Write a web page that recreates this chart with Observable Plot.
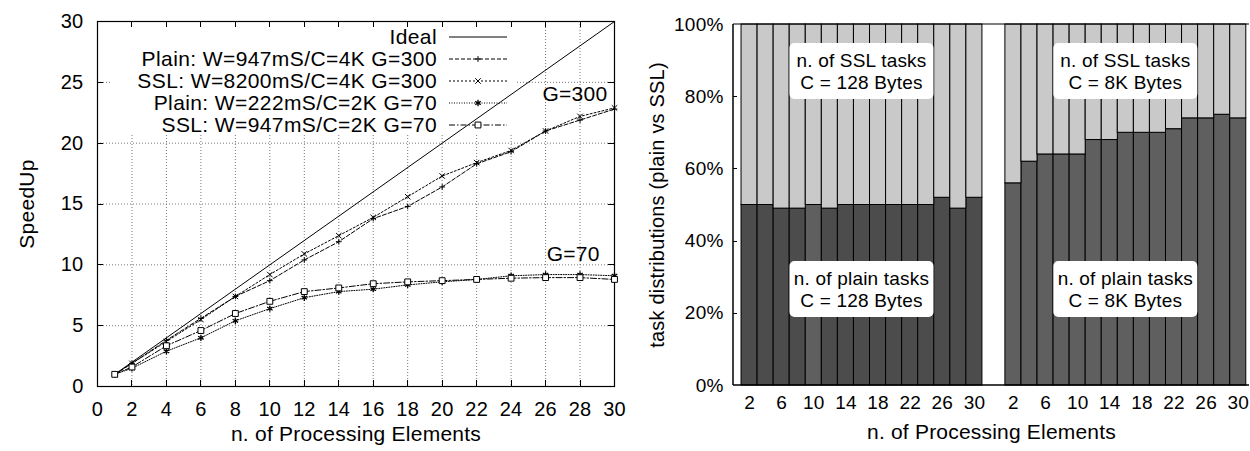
<!DOCTYPE html>
<html>
<head>
<meta charset="utf-8">
<script src="https://cdn.jsdelivr.net/npm/d3@7"></script>
<script src="https://cdn.jsdelivr.net/npm/@observablehq/plot@0.6"></script>
<style>
  body { margin: 0; background: #fff; }
  #wrap { display: flex; width: 1250px; height: 451px; overflow: hidden; }
  #wrap svg { display: block; }
</style>
</head>
<body>
<div id="wrap"></div>
<script>
// ---------------- LEFT CHART DATA ----------------
const peCounts = [1, 2, 4, 6, 8, 10, 12, 14, 16, 18, 20, 22, 24, 26, 28, 30];
const speedupPlain300 = [1, 1.9, 3.8, 5.6, 7.4, 8.7, 10.4, 11.9, 13.8, 14.8, 16.4, 18.3, 19.3, 21.0, 21.9, 22.8];
const speedupSSL300   = [1, 1.9, 3.7, 5.5, 7.4, 9.2, 10.9, 12.4, 13.9, 15.6, 17.3, 18.4, 19.4, 21.0, 22.2, 22.9];
const speedupPlain70  = [1, 1.5, 2.9, 4.0, 5.4, 6.4, 7.3, 7.8, 8.0, 8.35, 8.6, 8.8, 9.1, 9.2, 9.2, 9.1];
const speedupSSL70    = [1, 1.6, 3.35, 4.6, 6.0, 7.0, 7.8, 8.1, 8.45, 8.6, 8.7, 8.8, 8.9, 8.95, 8.95, 8.8];
const idealX = [1, 30];
const idealY = [1, 30];
const legendLabels = [
  "Ideal",
  "Plain: W=947mS/C=4K G=300",
  "SSL: W=8200mS/C=4K G=300",
  "Plain: W=222mS/C=2K G=70",
  "SSL: W=947mS/C=2K G=70"
];
const xTicksLeft = [0, 2, 4, 6, 8, 10, 12, 14, 16, 18, 20, 22, 24, 26, 28, 30];
const yTicksLeft = [0, 5, 10, 15, 20, 25, 30];
const annotX = [27.7, 27.6];
const annotY = [24.0, 10.9];
const annotText = ["G=300", "G=70"];
const xLabelLeft = "n. of Processing Elements";
const yLabelLeft = "SpeedUp";

// ---------------- RIGHT CHART DATA ----------------
const barPE = [2, 4, 6, 8, 10, 12, 14, 16, 18, 20, 22, 24, 26, 28, 30];
const plainPct128 = [50, 50, 49, 49, 50, 49, 50, 50, 50, 50, 50, 50, 52, 49, 52];
const plainPct8K  = [56, 62, 64, 64, 64, 68, 68, 70, 70, 70, 71, 74, 74, 75, 74];
const barTickPE = [2, 6, 10, 14, 18, 22, 26, 30];
const yTicksRight = [0, 20, 40, 60, 80, 100];
const boxTextSSL = [["n. of SSL tasks", "C = 128 Bytes"], ["n. of SSL tasks", "C = 8K Bytes"]];
const boxTextPlain = [["n. of plain tasks", "C = 128 Bytes"], ["n. of plain tasks", "C = 8K Bytes"]];
const boxPctSSL = 87;
const boxPctPlain = 26.6;
const xLabelRight = "n. of Processing Elements";
const yLabelRight = "task distributions (plain vs SSL)";

const FONT = "'Liberation Sans', Arial, Helvetica, sans-serif";

// ================= LEFT CHART =================
const seriesDefs = [
  {name: legendLabels[1], values: speedupPlain300, dash: "4,2", symbol: "plus", r: 2.0, fill: "none"},
  {name: legendLabels[2], values: speedupSSL300, dash: "2,2", symbol: "times", r: 2.6, fill: "none"},
  {name: legendLabels[3], values: speedupPlain70, dash: "1,1.5", symbol: "asterisk", r: 3.0, fill: "none"},
  {name: legendLabels[4], values: speedupSSL70, dash: "6,2,1.5,2", symbol: "square", r: 3.3, fill: "white"}
];
const symbolMap = {plus: d3.symbolPlus, times: d3.symbolTimes, asterisk: d3.symbolAsterisk, square: d3.symbolSquare};

const idealData = idealX.map((x, i) => ({x, y: idealY[i]}));
const seriesMarks = seriesDefs.flatMap(s => {
  const data = peCounts.map((x, i) => ({x, y: s.values[i]}));
  return [
    Plot.line(data, {x: "x", y: "y", stroke: "black", strokeWidth: 1, strokeDasharray: s.dash}),
    Plot.dot(data, {x: "x", y: "y", symbol: s.symbol, r: s.r, stroke: "black", fill: s.fill, strokeWidth: s.symbol === "asterisk" ? 1.3 : 1})
  ];
});

function frameBox(d) {
  return {L: d.marginLeft, R: d.width - d.marginRight, T: d.marginTop, B: d.height - d.marginBottom};
}

// white background of the key (hides the grid only)
function legendBackground(index, scales, values, dims) {
  const f = frameBox(dims);
  return d3.create("svg:rect")
    .attr("x", f.L + 13).attr("y", f.T + 1)
    .attr("width", 406).attr("height", 111)
    .attr("fill", "white").node();
}

function leftTickMarks(index, scales, values, dims) {
  const f = frameBox(dims);
  const g = d3.create("svg:g").attr("stroke", "black").attr("stroke-width", 1);
  const t = 6;
  for (const v of xTicksLeft.slice(1, -1)) {
    const px = Math.round(scales.x(v)) + 0.5;
    g.append("line").attr("x1", px).attr("x2", px).attr("y1", f.B).attr("y2", f.B - t);
    g.append("line").attr("x1", px).attr("x2", px).attr("y1", f.T).attr("y2", f.T + t);
  }
  for (const v of yTicksLeft.slice(1, -1)) {
    const py = Math.round(scales.y(v)) + 0.5;
    g.append("line").attr("x1", f.L).attr("x2", f.L + t).attr("y1", py).attr("y2", py);
    g.append("line").attr("x1", f.R).attr("x2", f.R - t).attr("y1", py).attr("y2", py);
  }
  return g.node();
}

function legendMark(index, scales, values, dims) {
  const f = frameBox(dims);
  const g = d3.create("svg:g").attr("font-size", 21).attr("fill", "black").attr("letter-spacing", "0.4px");
  const textRight = f.L + 340, x0 = f.L + 352, x1 = f.L + 410;
  const rowY0 = f.T + 16, rowStep = 22;
  const styles = [{dash: null, symbol: null}].concat(seriesDefs);
  legendLabels.forEach((lab, k) => {
    const y = rowY0 + k * rowStep;
    g.append("text").attr("x", textRight).attr("y", y).attr("dy", "0.35em")
      .attr("text-anchor", "end").text(lab);
    const ln = g.append("line").attr("x1", x0).attr("x2", x1).attr("y1", y).attr("y2", y)
      .attr("stroke", "black").attr("stroke-width", 1);
    const st = styles[k];
    if (st.dash) ln.attr("stroke-dasharray", st.dash);
    if (st.symbol) {
      const size = st.r * st.r * Math.PI;
      g.append("path").attr("d", d3.symbol(symbolMap[st.symbol], size)())
        .attr("transform", `translate(${(x0 + x1) / 2},${y})`)
        .attr("fill", st.fill).attr("stroke", "black")
        .attr("stroke-width", st.symbol === "asterisk" ? 1.3 : 1);
    }
  });
  return g.node();
}

const annotData = annotText.map((t, i) => ({x: annotX[i], y: annotY[i], t}));

const left = Plot.plot({
  width: 640,
  height: 451,
  marginLeft: 97,
  marginRight: 26,
  marginTop: 21,
  marginBottom: 65,
  style: {fontFamily: FONT, fontSize: "20px", color: "black", background: "white", overflow: "visible", letterSpacing: "0.25px"},
  x: {domain: [0, 30], ticks: xTicksLeft, tickSize: 0, tickPadding: 15, label: null},
  y: {domain: [0, 30], ticks: yTicksLeft, tickSize: 0, tickPadding: 14, label: null},
  marks: [
    Plot.ruleX(xTicksLeft.slice(1, -1), {stroke: "#777", strokeWidth: 1, strokeDasharray: "1,2"}),
    Plot.ruleY(yTicksLeft.slice(1, -1), {stroke: "#777", strokeWidth: 1, strokeDasharray: "1,2"}),
    legendBackground,
    Plot.frame({stroke: "black", strokeWidth: 1.2}),
    leftTickMarks,
    Plot.line(idealData, {x: "x", y: "y", stroke: "black", strokeWidth: 1}),
    ...seriesMarks,
    Plot.text(annotData, {x: "x", y: "y", text: "t", fontSize: 21}),
    Plot.text([xLabelLeft], {frameAnchor: "bottom", dy: 54, text: d => d, fontSize: 21, textAnchor: "middle"}),
    Plot.text([yLabelLeft], {frameAnchor: "left", dx: -70, rotate: -90, text: d => d, fontSize: 21, textAnchor: "middle"}),
    legendMark
  ]
});

// ================= RIGHT CHART =================
const GAP = 1.43; // empty space between the two groups, in bar widths
const barRows = [];
[plainPct128, plainPct8K].forEach((vals, g) =>
  barPE.forEach((p, i) => barRows.push({group: g, pe: p, slot: i + g * (barPE.length + GAP), plain: vals[i]}))
);
const tickRows = barRows.filter(d => barTickPE.includes(d.pe));
const boxRows = [0, 1].flatMap(g => {
  const center = g * (barPE.length + GAP) + barPE.length / 2;
  return [
    {slot: center, pct: boxPctSSL, lines: boxTextSSL[g]},
    {slot: center, pct: boxPctPlain, lines: boxTextPlain[g]}
  ];
});

function rightBorders(index, scales, values, dims) {
  const f = frameBox(dims);
  const g = d3.create("svg:g").attr("stroke", "black").attr("fill", "none");
  g.append("line").attr("x1", f.L).attr("x2", f.L).attr("y1", f.T).attr("y2", f.B).attr("stroke-width", 1.5);
  g.append("line").attr("x1", f.L).attr("x2", f.R).attr("y1", f.B).attr("y2", f.B).attr("stroke-width", 1.5);
  g.append("line").attr("x1", f.L).attr("x2", f.R).attr("y1", f.T).attr("y2", f.T).attr("stroke-width", 1.2);
  for (const v of yTicksRight.slice(1, -1)) {
    const py = Math.round(scales.y(v)) + 0.5;
    g.append("line").attr("x1", f.L).attr("x2", f.L + 4).attr("y1", py).attr("y2", py).attr("stroke-width", 1);
  }
  return g.node();
}

function labelBoxes(index, scales, values, dims) {
  const g = d3.create("svg:g");
  for (const b of boxRows) {
    const cx = scales.x(b.slot), cy = scales.y(b.pct);
    g.append("rect").attr("x", cx - 72).attr("y", cy - 28).attr("width", 144).attr("height", 56)
      .attr("rx", 5).attr("fill", "white");
    const t = g.append("text").attr("text-anchor", "middle").attr("font-size", 19).attr("fill", "black");
    b.lines.forEach((ln, k) => {
      t.append("tspan").attr("x", cx).attr("y", cy - 11 + k * 22).attr("dy", "0.35em").text(ln);
    });
  }
  return g.node();
}

const right = Plot.plot({
  width: 610,
  height: 451,
  marginLeft: 93,
  marginRight: 1,
  marginTop: 24,
  marginBottom: 66,
  style: {fontFamily: FONT, fontSize: "19px", color: "black", background: "white", overflow: "visible", letterSpacing: "0.2px"},
  x: {domain: [-0.5, 2 * barPE.length + GAP + 0.2], axis: null},
  y: {domain: [0, 100], ticks: yTicksRight, tickFormat: d => d + "%", tickSize: 0, tickPadding: 10, label: null},
  marks: [
    Plot.rect(barRows, {
      x1: "slot", x2: d => d.slot + 1, y1: 0, y2: "plain",
      fill: d => (d.group === 0 && d.pe !== 10) ? "#4c4c4c" : "#5f5f5f",
      stroke: "black", strokeWidth: 1
    }),
    Plot.rect(barRows, {
      x1: "slot", x2: d => d.slot + 1, y1: "plain", y2: 100,
      fill: "#c9c9c9", stroke: "black", strokeWidth: 1
    }),
    rightBorders,
    Plot.text(tickRows, {x: d => d.slot + 0.5, text: "pe", frameAnchor: "bottom", dy: 10, lineAnchor: "top", fontSize: 19}),
    labelBoxes,
    Plot.text([xLabelRight], {frameAnchor: "bottom", dy: 53, text: d => d, fontSize: 21, textAnchor: "middle"}),
    Plot.text([yLabelRight], {frameAnchor: "left", dx: -76, rotate: -90, text: d => d, fontSize: 20, textAnchor: "middle", letterSpacing: "0.5px"})
  ]
});

document.getElementById("wrap").append(left, right);
</script>
</body>
</html>
